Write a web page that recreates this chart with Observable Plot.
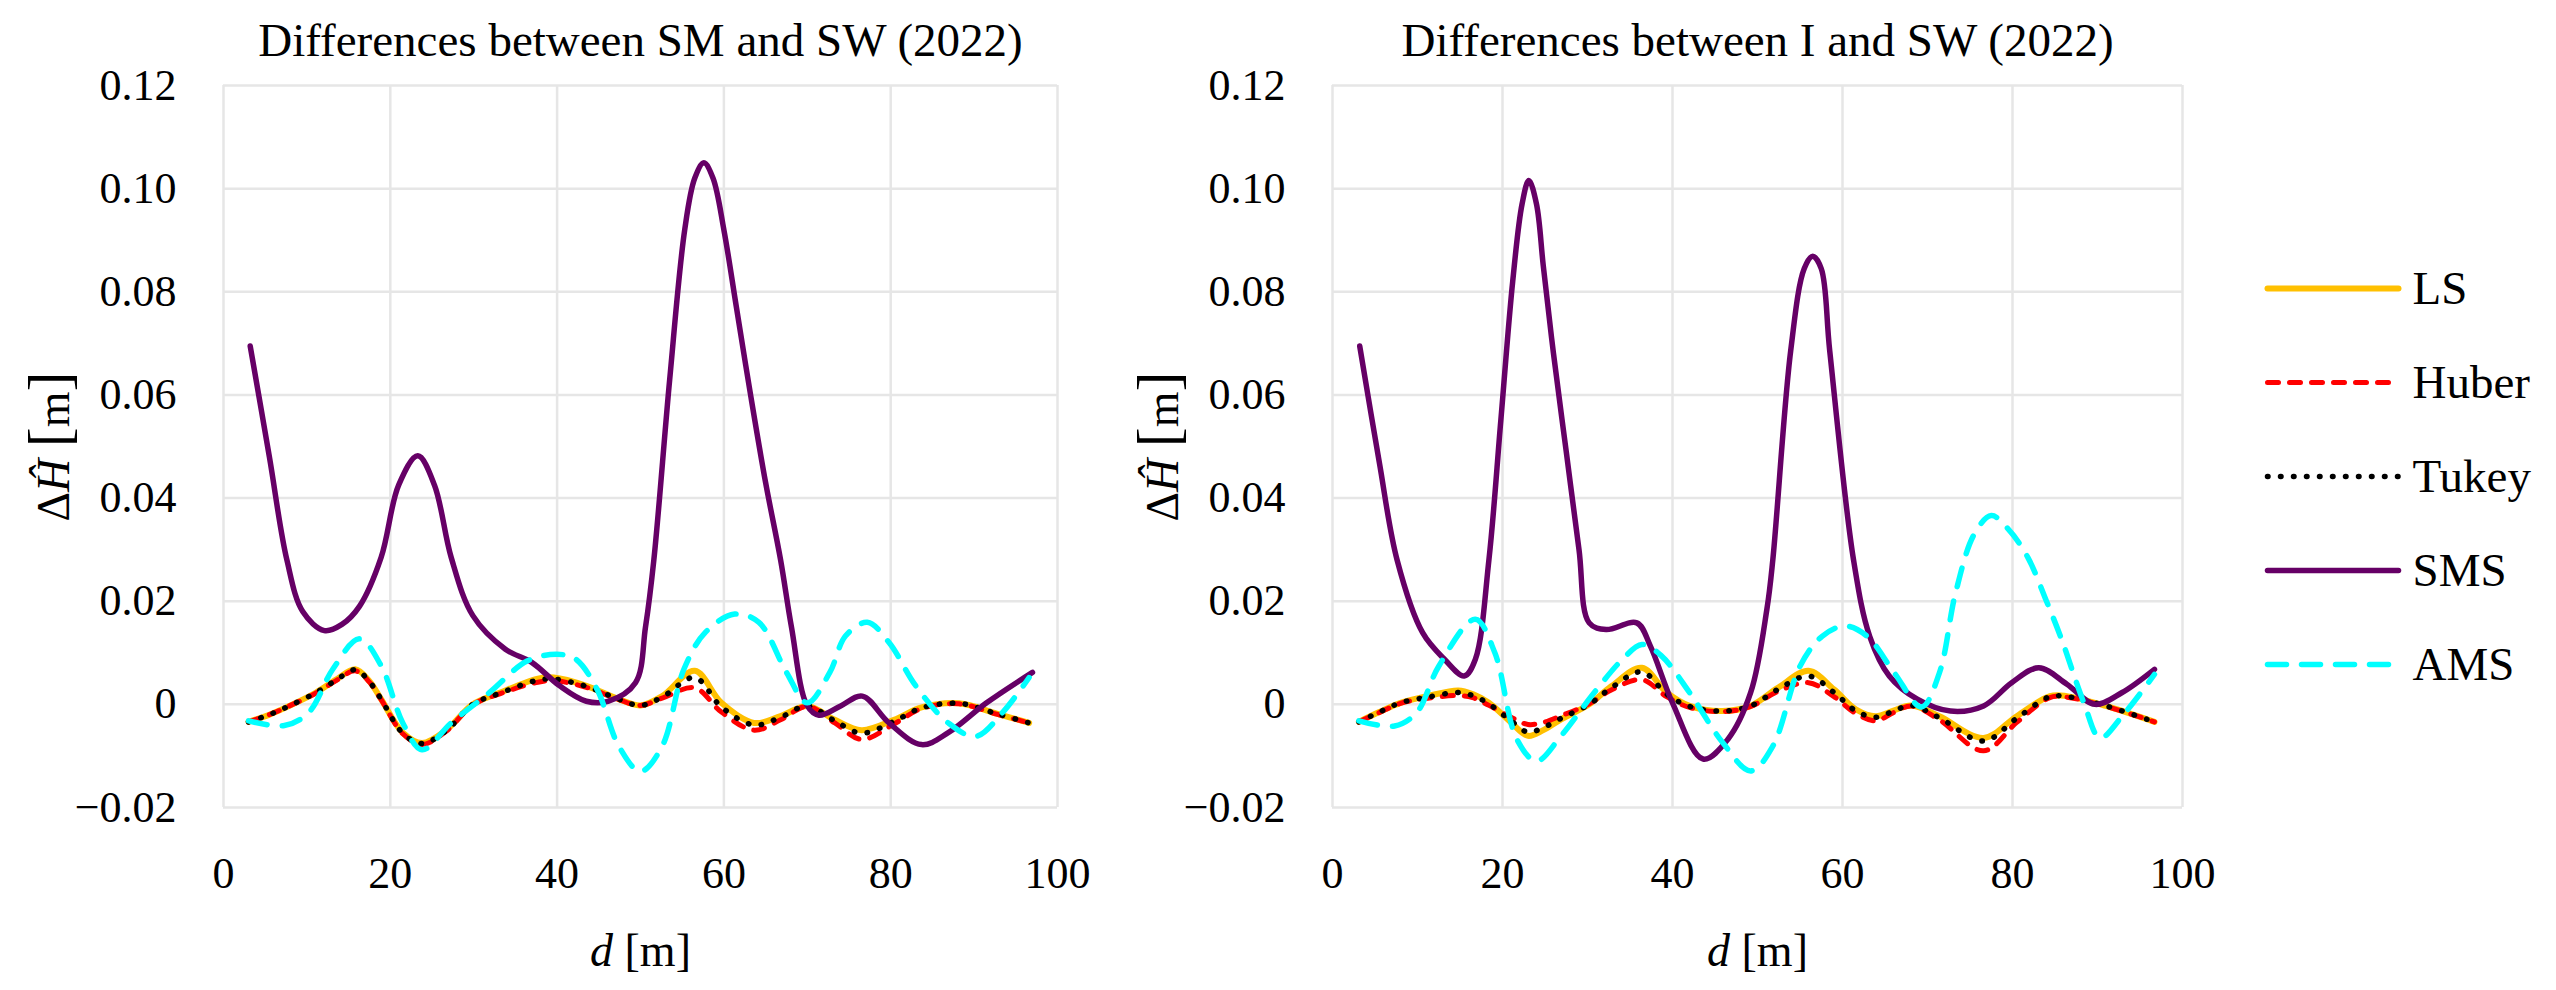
<!DOCTYPE html>
<html>
<head>
<meta charset="utf-8">
<script src="https://cdn.jsdelivr.net/npm/d3@7"></script>
<script src="https://cdn.jsdelivr.net/npm/@observablehq/plot@0.6"></script>
<style>
  html, body { margin: 0; padding: 0; background: #fff; }
  #wrap { position: relative; width: 2556px; height: 990px; overflow: hidden; background: #fff; }
  #wrap > svg { position: absolute; top: 0; font-family: 'Liberation Serif', 'Times New Roman', serif; }
  #wrap text { font-family: 'Liberation Serif', 'Times New Roman', serif; }
</style>
</head>
<body>
<div id="wrap"></div>
<script>
// ---------- tick values ----------
const xTicks = [0, 20, 40, 60, 80, 100];
const yTicks = [-0.02, 0, 0.02, 0.04, 0.06, 0.08, 0.10, 0.12];

// ---------- titles / labels ----------
const titleLeft = "Differences between SM and SW (2022)";
const titleRight = "Differences between I and SW (2022)";
const yLabel = "ΔĤ [m]";
const xLabel = "d [m]";
const seriesNames = ["LS", "Huber", "Tukey", "SMS", "AMS"];

// ---------- left panel data: [d, ΔH] ----------
const lsLeft = [[3.0,-0.0034],[5.5,-0.0020],[7.9,-0.0003],[11.1,0.0023],[13.5,0.0048],[15.8,0.0068],[17.5,0.0045],[18.9,0.0010],[21.5,-0.0055],[23.8,-0.0075],[26.7,-0.0050],[29.9,0.0000],[33.2,0.0023],[37.7,0.0050],[39.6,0.0052],[43.5,0.0036],[47.4,0.0010],[50.0,-0.0002],[52.6,0.0016],[56.5,0.0065],[59.7,0.0003],[63.6,-0.0036],[66.8,-0.0023],[70.0,-0.0003],[73.3,-0.0030],[76.5,-0.0050],[80.4,-0.0030],[83.7,-0.0006],[88.2,0.0002],[92.7,-0.0018],[96.6,-0.0036]];
const huberLeft = [[3.0,-0.0034],[5.5,-0.0020],[7.9,-0.0003],[11.1,0.0022],[13.5,0.0046],[15.8,0.0065],[17.5,0.0043],[18.9,0.0009],[21.5,-0.0057],[23.8,-0.0078],[26.7,-0.0052],[29.9,-0.0001],[33.2,0.0021],[37.7,0.0043],[39.6,0.0046],[43.5,0.0033],[47.4,0.0009],[50.0,-0.0002],[52.6,0.0012],[56.5,0.0032],[59.7,-0.0015],[63.6,-0.0050],[66.8,-0.0030],[70.0,-0.0004],[73.3,-0.0036],[76.5,-0.0068],[80.4,-0.0038],[83.7,-0.0008],[88.2,0.0001],[92.7,-0.0019],[96.6,-0.0036]];
const tukeyLeft = [[3.0,-0.0034],[5.5,-0.0020],[7.9,-0.0003],[11.1,0.0023],[13.5,0.0047],[15.8,0.0067],[17.5,0.0044],[18.9,0.0010],[21.5,-0.0056],[23.8,-0.0076],[26.7,-0.0051],[29.9,0.0000],[33.2,0.0022],[37.7,0.0047],[39.6,0.0049],[43.5,0.0035],[47.4,0.0010],[50.0,-0.0002],[52.6,0.0014],[56.5,0.0052],[59.7,-0.0005],[63.6,-0.0040],[66.8,-0.0025],[70.0,-0.0003],[73.3,-0.0032],[76.5,-0.0056],[80.4,-0.0033],[83.7,-0.0007],[88.2,0.0002],[92.7,-0.0018],[96.6,-0.0036]];
const smsLeft = [[3.2,0.0695],[5.5,0.0480],[7.6,0.0280],[9.5,0.0180],[12.1,0.0143],[14.2,0.0155],[16.3,0.0190],[18.9,0.0285],[21.0,0.0425],[23.3,0.0482],[25.3,0.0425],[27.3,0.0285],[29.9,0.0172],[33.8,0.0107],[37.0,0.0081],[40.3,0.0036],[43.5,0.0006],[46.1,0.0006],[49.4,0.0042],[50.6,0.0150],[51.6,0.0280],[53.5,0.0630],[55.3,0.0920],[56.5,0.1020],[57.6,0.1050],[58.7,0.1020],[60.0,0.0920],[61.5,0.0770],[63.2,0.0600],[65.0,0.0430],[66.8,0.0280],[68.1,0.0150],[70.0,-0.0003],[71.4,-0.0021],[74.0,-0.0003],[76.6,0.0016],[79.8,-0.0036],[83.7,-0.0078],[86.9,-0.0055],[91.5,0.0003],[97.0,0.0062]];
const amsLeft = [[3.0,-0.0032],[7.3,-0.0041],[10.2,-0.0016],[13.1,0.0068],[16.3,0.0127],[18.9,0.0075],[21.5,-0.0036],[23.8,-0.0088],[27.3,-0.0036],[31.9,0.0023],[36.4,0.0084],[40.0,0.0097],[42.2,0.0088],[44.8,0.0029],[47.4,-0.0081],[50.0,-0.0130],[52.6,-0.0081],[55.2,0.0068],[57.8,0.0140],[61.3,0.0175],[64.2,0.0159],[67.5,0.0062],[70.0,0.0003],[72.7,0.0062],[74.6,0.0133],[77.2,0.0159],[79.8,0.0120],[83.0,0.0036],[86.9,-0.0036],[90.2,-0.0062],[93.4,-0.0016],[96.6,0.0052]];

// ---------- right panel data: [d, ΔH] ----------
const lsRight = [[3.1,-0.0034],[5.5,-0.0015],[8.0,0.0003],[11.2,0.0016],[14.8,0.0027],[16.5,0.0020],[18.4,0.0003],[21.0,-0.0035],[23.0,-0.0061],[24.8,-0.0050],[26.9,-0.0029],[30.2,0.0000],[32.8,0.0035],[36.4,0.0071],[39.3,0.0023],[42.0,-0.0003],[45.9,-0.0013],[49.2,-0.0003],[52.4,0.0032],[56.0,0.0065],[59.0,0.0029],[61.6,-0.0010],[63.9,-0.0023],[66.0,-0.0012],[68.1,-0.0002],[71.4,-0.0023],[76.6,-0.0065],[80.5,-0.0023],[84.4,0.0016],[86.4,0.0016],[91.0,-0.0003],[96.7,-0.0034]];
const huberRight = [[3.1,-0.0034],[5.5,-0.0016],[8.0,0.0002],[11.2,0.0012],[14.8,0.0017],[16.5,0.0013],[18.4,-0.0002],[21.0,-0.0025],[23.0,-0.0039],[24.8,-0.0035],[26.9,-0.0022],[30.2,0.0001],[32.8,0.0028],[36.4,0.0048],[39.3,0.0015],[42.0,-0.0006],[45.9,-0.0014],[49.2,-0.0004],[52.4,0.0025],[56.0,0.0042],[59.0,0.0015],[61.6,-0.0018],[63.9,-0.0032],[66.0,-0.0016],[68.1,-0.0003],[71.4,-0.0030],[76.6,-0.0090],[80.5,-0.0035],[84.4,0.0013],[86.4,0.0014],[91.0,-0.0004],[96.7,-0.0034]];
const tukeyRight = [[3.1,-0.0034],[5.5,-0.0015],[8.0,0.0003],[11.2,0.0014],[14.8,0.0023],[16.5,0.0017],[18.4,0.0001],[21.0,-0.0032],[23.0,-0.0054],[24.8,-0.0045],[26.9,-0.0027],[30.2,0.0000],[32.8,0.0032],[36.4,0.0063],[39.3,0.0020],[42.0,-0.0004],[45.9,-0.0013],[49.2,-0.0003],[52.4,0.0029],[56.0,0.0055],[59.0,0.0023],[61.6,-0.0013],[63.9,-0.0025],[66.0,-0.0013],[68.1,-0.0002],[71.4,-0.0026],[76.6,-0.0071],[80.5,-0.0027],[84.4,0.0015],[86.4,0.0015],[91.0,-0.0003],[96.7,-0.0034]];
const smsRight = [[3.2,0.0695],[5.5,0.0470],[7.6,0.0280],[10.6,0.0139],[13.2,0.0087],[15.5,0.0055],[16.8,0.0087],[18.4,0.0280],[19.8,0.0550],[21.2,0.0820],[22.3,0.0970],[23.1,0.1016],[24.0,0.0970],[24.8,0.0850],[26.0,0.0680],[27.5,0.0490],[29.0,0.0300],[30.2,0.0158],[32.2,0.0145],[35.8,0.0158],[37.4,0.0113],[40.0,0.0003],[43.6,-0.0106],[46.5,-0.0068],[49.2,0.0023],[51.1,0.0184],[51.8,0.0280],[53.9,0.0685],[55.5,0.0845],[56.5,0.0869],[57.5,0.0845],[58.5,0.0685],[61.3,0.0280],[63.2,0.0132],[65.5,0.0055],[68.8,0.0010],[72.7,-0.0013],[76.6,-0.0003],[79.9,0.0042],[83.1,0.0071],[86.4,0.0039],[89.7,0.0000],[92.9,0.0023],[96.7,0.0068]];
const amsRight = [[3.1,-0.0032],[7.3,-0.0042],[9.9,-0.0016],[12.5,0.0074],[16.8,0.0165],[19.1,0.0100],[21.7,-0.0068],[24.0,-0.0110],[26.9,-0.0061],[30.8,0.0023],[34.1,0.0087],[36.4,0.0116],[38.7,0.0094],[42.0,0.0023],[45.9,-0.0074],[49.2,-0.0129],[51.8,-0.0081],[55.0,0.0074],[57.6,0.0132],[60.3,0.0152],[62.9,0.0132],[66.1,0.0061],[69.3,-0.0005],[71.4,0.0061],[73.3,0.0216],[75.5,0.0330],[77.5,0.0366],[79.5,0.0340],[81.8,0.0285],[84.0,0.0200],[85.8,0.0125],[88.4,0.0003],[90.3,-0.0065],[92.9,-0.0023],[96.7,0.0058]];

// ---------- styling ----------
const FONT = "Liberation Serif";
const styles = {
  LS:    {stroke: "#FFC000", strokeWidth: 6,   strokeDasharray: null},
  Huber: {stroke: "#FF0000", strokeWidth: 5,   strokeDasharray: "11,11"},
  Tukey: {stroke: "#000000", strokeWidth: 5.5, strokeDasharray: "0.5,12.5"},
  SMS:   {stroke: "#660066", strokeWidth: 5.5, strokeDasharray: null},
  AMS:   {stroke: "#00FFFF", strokeWidth: 5.5, strokeDasharray: "19,15"}
};
const fmtY = d => d === 0 ? "0" : (d < 0 ? "−" : "") + Math.abs(d).toFixed(2);

function lineMark(data, name) {
  const s = styles[name];
  const o = {x: d => d[0], y: d => d[1], stroke: s.stroke, strokeWidth: s.strokeWidth,
             curve: "catmull-rom", strokeLinecap: "round", strokeLinejoin: "round"};
  if (s.strokeDasharray) o.strokeDasharray = s.strokeDasharray;
  return Plot.line(data, o);
}

function panel({title, data, width, marginLeft, marginRight}) {
  return Plot.plot({
    width, height: 990,
    marginLeft, marginRight, marginTop: 85, marginBottom: 183,
    style: {fontFamily: FONT, fontSize: "44px", color: "#000", background: "transparent", overflow: "visible"},
    x: {domain: [0, 100]},
    y: {domain: [-0.02, 0.12]},
    marks: [
      Plot.gridX(xTicks, {stroke: "#e6e6e6", strokeOpacity: 1, strokeWidth: 2.5}),
      Plot.gridY(yTicks, {stroke: "#e6e6e6", strokeOpacity: 1, strokeWidth: 2.5}),
      Plot.axisX(xTicks, {tickSize: 0, tickPadding: 49, label: null, fontSize: 44, fontFamily: FONT, tickFormat: d => String(d)}),
      Plot.axisY(yTicks, {tickSize: 0, tickPadding: 47, label: null, fontSize: 44, fontFamily: FONT, tickFormat: fmtY}),
      ...seriesNames.map((n, i) => lineMark(data[i], n)),
      Plot.text([title], {frameAnchor: "top", dy: -45, fontSize: 47, fontFamily: FONT, text: d => d, lineAnchor: "middle"}),
      Plot.text([yLabel], {frameAnchor: "left", dx: -169, rotate: -90, fontSize: 46, fontFamily: FONT, text: d => d, lineAnchor: "middle", textAnchor: "middle"}),
      Plot.text([xLabel], {frameAnchor: "bottom", dy: 144, fontSize: 46, fontFamily: FONT, text: d => d, lineAnchor: "middle"})
    ]
  });
}

function legend() {
  return Plot.plot({
    width: 366, height: 990,
    marginLeft: 0, marginRight: 0, marginTop: 0, marginBottom: 0,
    style: {fontFamily: FONT, fontSize: "47px", color: "#000", background: "transparent", overflow: "visible"},
    x: {domain: [0, 1], range: [77, 208], axis: null},
    y: {type: "point", domain: seriesNames, range: [240, 712], axis: null},
    marks: [
      ...seriesNames.map(n => {
        const s = styles[n];
        const o = {x1: () => 0, x2: () => 1, y1: d => d, y2: d => d, stroke: s.stroke,
                   strokeWidth: s.strokeWidth, strokeLinecap: "round"};
        if (s.strokeDasharray) o.strokeDasharray = s.strokeDasharray;
        return Plot.link([n], o);
      }),
      Plot.text(seriesNames, {x: () => 1, y: d => d, text: d => d, dx: 14, textAnchor: "start", fontSize: 47, fontFamily: FONT, lineAnchor: "middle"})
    ]
  });
}

function styleLabels(svg) {
  const sel = d3.select(svg);
  sel.selectAll("text").each(function() {
    const t = d3.select(this);
    const txt = this.textContent;
    if (txt === yLabel) {
      t.text(null);
      t.append("tspan").text("Δ");
      t.append("tspan").attr("font-style", "italic").text("Ĥ");
      t.append("tspan").text(" ");
      t.append("tspan").attr("font-size", "60px").attr("font-weight", "200").text("[");
      t.append("tspan").text("m");
      t.append("tspan").attr("font-size", "60px").attr("font-weight", "200").text("]");
    } else if (txt === xLabel) {
      t.text(null);
      t.append("tspan").attr("font-style", "italic").text("d");
      t.append("tspan").text(" [m]");
    }
  });
}

const wrap = document.getElementById("wrap");
const left = panel({title: titleLeft, data: [lsLeft, huberLeft, tukeyLeft, smsLeft, amsLeft], width: 1097, marginLeft: 223, marginRight: 40});
const right = panel({title: titleRight, data: [lsRight, huberRight, tukeyRight, smsRight, amsRight], width: 1090, marginLeft: 232, marginRight: 8});
const leg = legend();
[left, right].forEach(styleLabels);
left.style.left = "0px";
right.style.left = "1100px";
leg.style.left = "2190px";
wrap.append(left, right, leg);
</script>
</body>
</html>
